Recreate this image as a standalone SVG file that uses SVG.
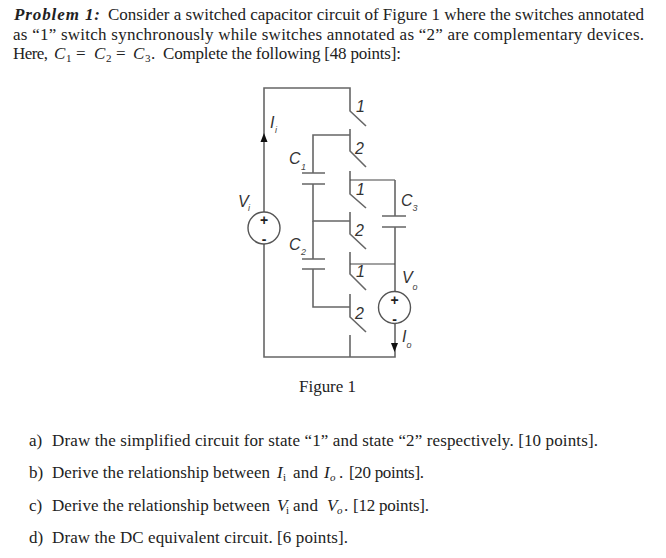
<svg xmlns="http://www.w3.org/2000/svg" width="666" height="558" viewBox="0 0 666 558">
<style>
.t{font-family:"Liberation Serif",serif;font-size:17px;fill:#222}
.b{font-weight:bold;font-style:italic}
.i{font-style:italic}
.s{font-size:11px}
.w{fill:none;stroke:#666;stroke-width:1.6}
.k{fill:none;stroke:#444;stroke-width:1.2}
.l{font-family:"Liberation Sans",sans-serif;font-style:italic;font-size:16px;fill:#333}
.n{font-family:"Liberation Sans",sans-serif;font-style:italic;font-size:16px;fill:#333}
.ls{font-family:"Liberation Sans",sans-serif;font-style:italic;font-size:9px;fill:#444}
.p{font-family:"Liberation Sans",sans-serif;font-weight:bold;font-size:14px;fill:#222;text-anchor:middle}
</style>
<rect width="666" height="558" fill="#fff"/>
<g id="problem">
<text class="t b" x="14" y="20" textLength="86" lengthAdjust="spacing">Problem 1:</text>
<text class="t" x="108" y="20" textLength="536" lengthAdjust="spacing">Consider a switched capacitor circuit of Figure 1 where the switches annotated</text>
<text class="t" x="13" y="40" textLength="631" lengthAdjust="spacing">as “1” switch synchronously while switches annotated as “2” are complementary devices.</text>
<text class="t" x="13" y="59" textLength="35">Here,</text>
<text class="t i" x="54" y="59">C</text><text class="t s" x="66" y="62">1</text><text class="t" x="76" y="59">=</text>
<text class="t i" x="94" y="59">C</text><text class="t s" x="106" y="62">2</text><text class="t" x="116" y="59">=</text>
<text class="t i" x="133" y="59">C</text><text class="t s" x="145" y="62">3</text><text class="t" x="151" y="59">.</text>
<text class="t" x="163" y="59" textLength="238" lengthAdjust="spacing">Complete the following [48 points]:</text>
</g>
<g id="connectors">
<path class="w" d="M264 212V88H350V111L366 126"/>
<path class="w" d="M264 244V357H395V323"/>
<path class="w" d="M350 129V151L366 167M350 135H313V173M313 184V221H350"/>
<path class="w" d="M350 171V194L366 208"/>
<path class="k" d="M350 180H395"/><path class="w" d="M395 180V216M395 227V291"/>
<path class="w" d="M350 212V234L366 249"/>
<path class="w" d="M313 221V259M313 269V307H350"/>
<path class="w" d="M350 252V274L366 290"/><path class="k" d="M350 264H395"/>
<path class="w" d="M350 294V317L366 332"/>
<path class="w" d="M350 335V357"/>
<path class="w" d="M302 173H325M302 184H325M302 259H325M302 269H325M382 216H406M382 227H406"/>
<path d="M264 133L260.500 142H267.500Z" fill="#111"/>
<path d="M394.500 352L391 343H398Z" fill="#111"/>
</g>
<g id="source-vi"><circle cx="264" cy="228" r="16" fill="#fff" stroke="#555" stroke-width="1.4"/><text class="p" x="264" y="225">+</text><text class="p" x="264" y="244">-</text></g>
<g id="source-vo"><circle cx="394.500" cy="307.500" r="16" fill="#fff" stroke="#555" stroke-width="1.4"/><text class="p" x="394.500" y="305">+</text><text class="p" x="394.500" y="324">-</text></g>
<g id="labels">
<text class="l" x="270" y="128">I</text><text class="ls" x="275" y="133">i</text>
<text class="l" x="289" y="164">C</text><text class="ls" x="301" y="170">1</text>
<text class="l" x="238" y="207">V</text><text class="ls" x="248" y="211">i</text>
<text class="l" x="401" y="206">C</text><text class="ls" x="412.500" y="211">3</text>
<text class="l" x="289" y="250">C</text><text class="ls" x="301" y="255">2</text>
<text class="l" x="402" y="283">V</text><text class="ls" x="412.500" y="290">o</text>
<text class="l" x="402" y="342">I</text><text class="ls" x="406.500" y="348">o</text>
<text class="n" x="356" y="112">1</text><text class="n" x="355" y="154">2</text><text class="n" x="356" y="195">1</text><text class="n" x="355" y="236">2</text><text class="n" x="356" y="277">1</text><text class="n" x="355" y="319">2</text>
</g>
<text id="caption" class="t" x="299" y="392" textLength="57">Figure 1</text>
<g id="questions">
<text class="t" x="29" y="446">a)</text><text class="t" x="52" y="446" textLength="546" lengthAdjust="spacing">Draw the simplified circuit for state “1” and state “2” respectively. [10 points].</text>
<text class="t" x="29" y="478">b)</text><text class="t" x="52" y="478" textLength="218" lengthAdjust="spacing">Derive the relationship between</text>
<text class="t i" x="277" y="478">I</text><text class="t s" x="283" y="481">i</text><text class="t" x="293" y="478" textLength="25">and</text><text class="t i" x="324" y="478">I</text><text class="t s i" x="330" y="481">o</text><text class="t" x="339" y="478">.</text><text class="t" x="349" y="478" textLength="75" lengthAdjust="spacing">[20 points].</text>
<text class="t" x="29" y="511">c)</text><text class="t" x="52" y="511" textLength="218" lengthAdjust="spacing">Derive the relationship between</text>
<text class="t i" x="277" y="511">V</text><text class="t s" x="286" y="514">i</text><text class="t" x="293" y="511" textLength="25">and</text><text class="t i" x="327" y="511">V</text><text class="t s i" x="337" y="514">o</text><text class="t" x="344" y="511">.</text><text class="t" x="353" y="511" textLength="76" lengthAdjust="spacing">[12 points].</text>
<text class="t" x="29" y="543">d)</text><text class="t" x="52" y="543" textLength="296" lengthAdjust="spacing">Draw the DC equivalent circuit. [6 points].</text>
</g>
</svg>
